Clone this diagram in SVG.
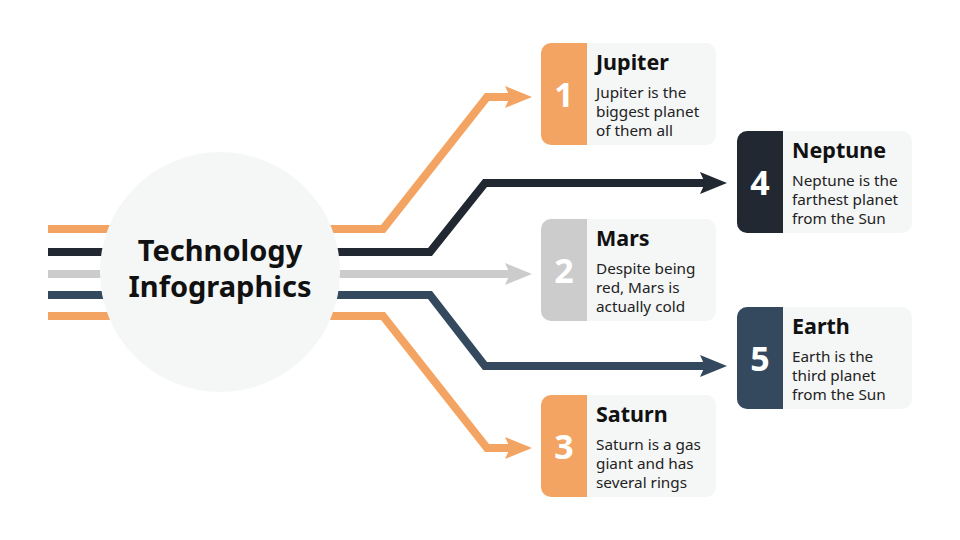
<svg xmlns="http://www.w3.org/2000/svg" width="960" height="540" viewBox="0 0 960 540">
<defs>
<style>
.ln{fill:none;stroke-width:8;stroke-linejoin:miter;stroke-linecap:butt}
.bg{fill:#f5f6f6}
.num{font-family:"Noto Sans",sans-serif;font-weight:700;font-size:34px;fill:#ffffff;text-anchor:middle}
.ttl{font-family:"Noto Sans",sans-serif;font-weight:700;font-size:21.5px;fill:#111111}
.dsc{font-family:"Noto Sans",sans-serif;font-size:15.3px;fill:#222222}
.ctr{font-family:"Noto Sans",sans-serif;font-weight:700;font-size:29px;fill:#111111;text-anchor:middle}
</style>
<marker id="aO" markerUnits="userSpaceOnUse" viewBox="0 -12 28 24" markerWidth="28" markerHeight="24" refX="11" refY="0" orient="auto"><path d="M0,-11 L27,0 L0,11 L5,0 Z" fill="#f4a462"/></marker>
<marker id="aD" markerUnits="userSpaceOnUse" viewBox="0 -12 28 24" markerWidth="28" markerHeight="24" refX="11" refY="0" orient="auto"><path d="M0,-11 L27,0 L0,11 L5,0 Z" fill="#222831"/></marker>
<marker id="aG" markerUnits="userSpaceOnUse" viewBox="0 -12 28 24" markerWidth="28" markerHeight="24" refX="11" refY="0" orient="auto"><path d="M0,-11 L27,0 L0,11 L5,0 Z" fill="#cccccc"/></marker>
<marker id="aN" markerUnits="userSpaceOnUse" viewBox="0 -12 28 24" markerWidth="28" markerHeight="24" refX="11" refY="0" orient="auto"><path d="M0,-11 L27,0 L0,11 L5,0 Z" fill="#34495e"/></marker>
</defs>
<rect width="960" height="540" fill="#ffffff"/>
<g id="connectors">
<polyline class="ln" stroke="#f4a462" points="48,229 383,229 487,97 516,97" marker-end="url(#aO)"/>
<polyline class="ln" stroke="#222831" points="48,252 430,252 485,183 711,183" marker-end="url(#aD)"/>
<polyline class="ln" stroke="#cccccc" points="48,274 516,274" marker-end="url(#aG)"/>
<polyline class="ln" stroke="#34495e" points="48,295 430,295 485,366 711,366" marker-end="url(#aN)"/>
<polyline class="ln" stroke="#f4a462" points="48,316 383,316 487,448 516,448" marker-end="url(#aO)"/>
</g>
<g id="center">
<circle cx="220" cy="272" r="120" class="bg"/>
<text class="ctr" x="220" y="261">Technology</text>
<text class="ctr" x="220" y="297">Infographics</text>
</g>
<g id="card1" transform="translate(541,43)">
<rect class="bg" x="0" y="0" width="175" height="102" rx="10"/>
<path d="M10,0 H46 V102 H10 A10,10 0 0 1 0,92 V10 A10,10 0 0 1 10,0 Z" fill="#f4a462"/>
<text class="num" x="23" y="64">1</text>
<text class="ttl" x="55" y="27">Jupiter</text>
<text class="dsc" x="55" y="55">Jupiter is the</text>
<text class="dsc" x="55" y="74">biggest planet</text>
<text class="dsc" x="55" y="93">of them all</text>
</g>
<g id="card4" transform="translate(737,131)">
<rect class="bg" x="0" y="0" width="175" height="102" rx="10"/>
<path d="M10,0 H46 V102 H10 A10,10 0 0 1 0,92 V10 A10,10 0 0 1 10,0 Z" fill="#222831"/>
<text class="num" x="23" y="64">4</text>
<text class="ttl" x="55" y="27">Neptune</text>
<text class="dsc" x="55" y="55">Neptune is the</text>
<text class="dsc" x="55" y="74">farthest planet</text>
<text class="dsc" x="55" y="93">from the Sun</text>
</g>
<g id="card2" transform="translate(541,219)">
<rect class="bg" x="0" y="0" width="175" height="102" rx="10"/>
<path d="M10,0 H46 V102 H10 A10,10 0 0 1 0,92 V10 A10,10 0 0 1 10,0 Z" fill="#cccccc"/>
<text class="num" x="23" y="64">2</text>
<text class="ttl" x="55" y="27">Mars</text>
<text class="dsc" x="55" y="55">Despite being</text>
<text class="dsc" x="55" y="74">red, Mars is</text>
<text class="dsc" x="55" y="93">actually cold</text>
</g>
<g id="card5" transform="translate(737,307)">
<rect class="bg" x="0" y="0" width="175" height="102" rx="10"/>
<path d="M10,0 H46 V102 H10 A10,10 0 0 1 0,92 V10 A10,10 0 0 1 10,0 Z" fill="#34495e"/>
<text class="num" x="23" y="64">5</text>
<text class="ttl" x="55" y="27">Earth</text>
<text class="dsc" x="55" y="55">Earth is the</text>
<text class="dsc" x="55" y="74">third planet</text>
<text class="dsc" x="55" y="93">from the Sun</text>
</g>
<g id="card3" transform="translate(541,395)">
<rect class="bg" x="0" y="0" width="175" height="102" rx="10"/>
<path d="M10,0 H46 V102 H10 A10,10 0 0 1 0,92 V10 A10,10 0 0 1 10,0 Z" fill="#f4a462"/>
<text class="num" x="23" y="64">3</text>
<text class="ttl" x="55" y="27">Saturn</text>
<text class="dsc" x="55" y="55">Saturn is a gas</text>
<text class="dsc" x="55" y="74">giant and has</text>
<text class="dsc" x="55" y="93">several rings</text>
</g>
</svg>
